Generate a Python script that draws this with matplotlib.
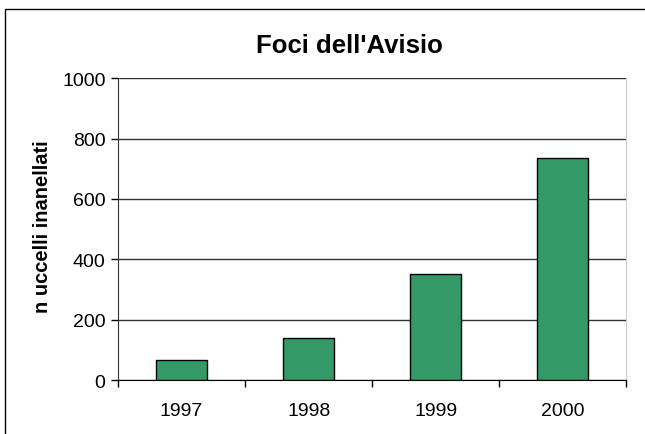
import matplotlib.pyplot as plt
from matplotlib.patches import Rectangle

plt.rcParams['font.family'] = ['Liberation Sans', 'DejaVu Sans']

# Birds ringed per year at Foci dell'Avisio
years = ['1997', '1998', '1999', '2000']
n_birds = [67, 139, 350, 734]

fig = plt.figure(figsize=(6.45, 4.35), dpi=100)
ax = fig.add_axes([0.183, 0.124, 0.788, 0.694])

x = range(len(years))
ax.bar(x, n_birds, width=0.4, color='#339966', edgecolor='black', linewidth=1, zorder=3)

ax.set_xlim(-0.5, len(years) - 0.5)
ax.set_ylim(0, 1000)
ax.set_yticks(range(0, 1001, 200))
ax.set_xticks(x)
ax.set_xticklabels(years)
# category ticks sit between the bars
ax.set_xticks([i - 0.5 for i in range(len(years) + 1)], minor=True)
ax.tick_params(axis='x', which='major', length=0, pad=16, labelsize=14)
ax.tick_params(axis='x', which='minor', length=5, width=1, direction='out', color='black')
ax.tick_params(axis='y', length=5, width=1, direction='out', labelsize=14, pad=4)

ax.grid(axis='y', color='#333333', linewidth=1, zorder=0)
ax.spines['top'].set_visible(False)
ax.spines['right'].set_color('#cccccc')
ax.spines['left'].set_color('#333333')
ax.spines['bottom'].set_color('black')

fig.text(349 / 645, 1 - 53 / 435, "Foci dell'Avisio", fontsize=18.5, fontweight='bold',
         ha='center', va='baseline')
fig.text(43 / 645, 1 - 227 / 435, 'n uccelli inanellati', fontsize=14.5, fontweight='bold',
         rotation=90, ha='center', va='center')

# outer chart frame
fig.patches.append(Rectangle((5 / 645, -0.1), 1.2, 1 - 10 / 435 + 0.1,
                             transform=fig.transFigure, fill=False,
                             edgecolor='black', linewidth=1))

plt.savefig('out.png', dpi=100)
